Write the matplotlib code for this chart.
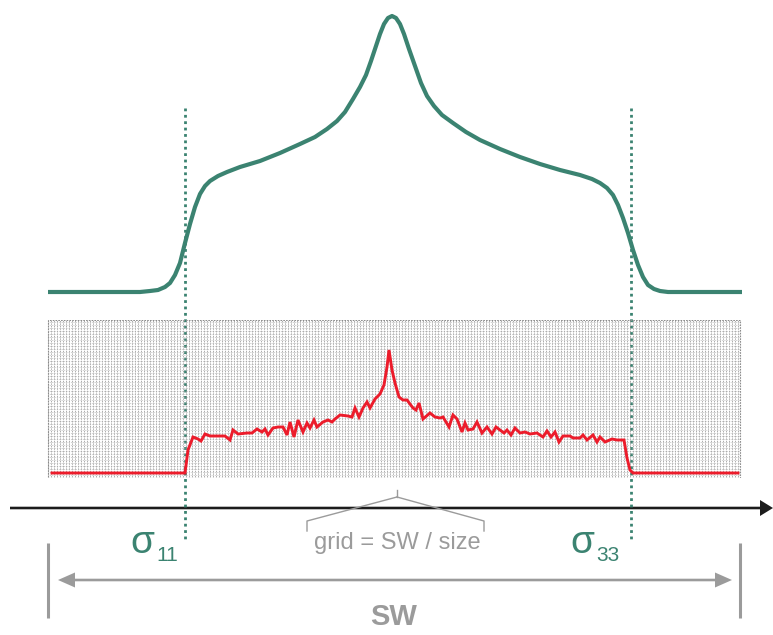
import numpy as np
import matplotlib
matplotlib.use("Agg")
import matplotlib.pyplot as plt
from matplotlib.patches import Rectangle

plt.rcParams['font.family'] = ['Liberation Sans', 'DejaVu Sans']

# --- data (frequency axis in spectral-width units, 0 .. 692) ---------------
# powder line shape (arbitrary intensity)
powder_x = [0, 92, 102, 110, 117, 122, 127, 132, 137, 142, 147, 152, 157, 162,
            170, 179, 192, 212, 232, 252, 267, 279, 289, 297, 305, 312, 318,
            323, 328, 332, 336, 340, 344, 348, 352, 356, 361, 367, 373, 379,
            386, 394, 405, 418, 432, 452, 472, 492, 512, 532, 544, 552, 559,
            565, 570, 575, 580, 585, 590, 595, 600, 606, 612, 620, 694]
powder_y = [0, 0, 1, 2, 5, 9, 17, 29, 49, 68, 85, 98, 106, 111, 116, 120,
            125, 131, 139, 148, 155, 163, 171, 180, 193, 205, 217, 231, 246,
            258, 268, 274, 276, 274, 268, 258, 243, 226, 209, 196, 186, 177,
            169, 160, 152, 143, 135, 128, 122, 117, 113, 109, 104, 97, 87, 74,
            59, 42, 27, 15, 7, 3, 1, 0, 0]

# histogram of the sampled tensor orientations on the grid (counts, a.u.)
hist_x = [4, 137, 140, 145, 150, 153, 157, 162, 172, 177, 182, 185, 190, 199,
          204, 209, 214, 217, 220, 225, 230, 235, 239, 242, 246, 250, 255,
          259, 262, 266, 269, 275, 280, 284, 287, 292, 300, 304, 307, 311,
          315, 319, 322, 327, 332, 336, 339, 341, 344, 347, 351, 355, 359,
          365, 368, 371, 375, 382, 387, 392, 395, 401, 405, 409, 414, 417,
          420, 425, 429, 434, 439, 444, 448, 452, 456, 459, 463, 467, 472,
          477, 482, 489, 495, 499, 503, 507, 511, 515, 522, 525, 532, 535,
          539, 545, 549, 552, 557, 564, 569, 576, 579, 582, 585, 690]
hist_y = [0, 0, 23, 36, 34, 32, 39, 37, 37, 37, 33, 43, 39, 40, 40, 44, 41,
          44, 38, 45, 46, 46, 38, 51, 36, 53, 41, 50, 45, 53, 46, 51, 53, 51,
          54, 58, 57, 56, 65, 56, 65, 71, 65, 74, 79, 88, 106, 123, 103, 90,
          76, 73, 73, 65, 63, 70, 54, 60, 56, 55, 56, 46, 58, 54, 41, 50, 43,
          44, 51, 40, 46, 39, 46, 43, 40, 43, 38, 45, 40, 41, 39, 40, 36, 42,
          36, 41, 31, 37, 37, 35, 35, 38, 33, 38, 31, 36, 31, 34, 33, 33, 15,
          3, 0, 0]

sigma11 = 137
sigma33 = 583
sw = 692
grid_step = 3

teal = '#3b8371'
red = '#ec1c2b'
grey = '#9b9b9b'

W, H = 773, 635
fig = plt.figure(figsize=(W / 100, H / 100), dpi=100)
xlim = (-48, W - 48)


def add_axes(top_px, bottom_px):
    a = fig.add_axes([0, 1 - bottom_px / H, 1, (bottom_px - top_px) / H])
    a.set_xlim(*xlim)
    a.axis('off')
    return a


# full-figure layer for the annotations (y measured downwards)
ax = add_axes(0, H)
ax.set_ylim(H, 0)

# upper panel: the line shape
ax_top = add_axes(0, 300)
ax_top.set_ylim(-8, 292)
ax_top.plot(powder_x, powder_y, color=teal, lw=3.0,
            solid_capstyle='butt', solid_joinstyle='round')

# lower panel: grid + histogram
ax_hist = add_axes(320, 478)
ax_hist.set_ylim(-5, 153)
gx = np.arange(0, sw + 1, grid_step)
gy = np.arange(-5, 154, grid_step)
ax_hist.vlines(gx, -5, 153, colors='#8c8c8c', lw=0.6, linestyles=(0, (1, 1)))
ax_hist.hlines(gy, 0, sw, colors='#a8a8a8', lw=0.5, linestyles=(0, (1, 1.5)))
ax_hist.add_patch(Rectangle((0, -5), sw, 158, fill=False, ec='#8c8c8c',
                            lw=0.8, ls=(0, (1.5, 1))))
ax_hist.plot(hist_x, hist_y, color=red, lw=2.1, solid_joinstyle='miter')

# principal components
ax.vlines([sigma11, sigma33], 108, 542, colors=teal, lw=2.0,
          linestyles=(0, (1, 1.3)))

# frequency axis
ax.arrow(-38, 508, W - 48 + 38, 0, width=2.6, head_width=16, head_length=13,
         length_includes_head=True, color='#1c1c1c', lw=0)

# grid spacing bracket
ax.plot([349, 349], [490, 497], color=grey, lw=1.0)
ax.plot([349, 259, 259], [497, 521, 531], color=grey, lw=1.0)
ax.plot([349, 436, 436], [497, 521, 531], color=grey, lw=1.0)
ax.text(349, 543, 'grid = SW / size', color=grey, fontsize=17,
        ha='center', va='center')

# spectral width
ax.vlines([0, sw], 543, 618, colors=grey, lw=2.2)
mid = sw / 2
ax.arrow(mid, 580, -(mid - 10), 0, width=2.6, head_width=15, head_length=17,
         length_includes_head=True, color=grey, lw=0)
ax.arrow(mid, 580, (sw - 8) - mid, 0, width=2.6, head_width=15,
         head_length=17, length_includes_head=True, color=grey, lw=0)
ax.text(346, 617, 'SW', color=grey, fontsize=21, fontweight='bold',
        ha='center', va='center')

# labels of the principal components
for xs, sub in [(82, '11'), (522, '33')]:
    ax.text(xs, 553, 'σ', color=teal, fontsize=28, ha='left', va='baseline')
    ax.text(xs + 26, 561, sub, color=teal, fontsize=15, ha='left',
            va='baseline')

fig.savefig('out.png', dpi=100)
